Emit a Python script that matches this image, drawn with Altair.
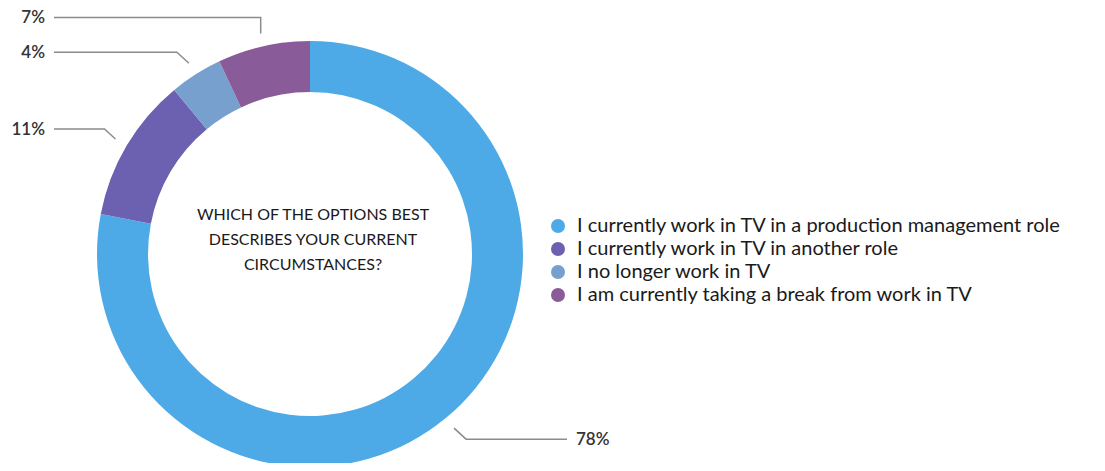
import altair as alt
import numpy as np
import pandas as pd

# ---- data ----
categories = [
    "I currently work in TV in a production management role",
    "I currently work in TV in another role",
    "I no longer work in TV",
    "I am currently taking a break from work in TV",
]
values = [78, 11, 4, 7]
colors = ["#4DAAE6", "#6B61B0", "#77A0CE", "#8A5B99"]
question = ["WHICH OF THE OPTIONS BEST", "DESCRIBES YOUR CURRENT", "CIRCUMSTANCES?"]

# ---- layout ----
W, H = 1089, 455
cx, cy = 302, 246
R_OUT, R_IN = 213, 162
R_LEAD = 226
lift = [11, 10, 11, 16]
kink = [12, 11, 12, 0]
LEFT_LINE_X, LEFT_TEXT_X = 46, 37
RIGHT_LINE_X, RIGHT_TEXT_X = 559, 568
FONT = "Lato"

df = pd.DataFrame({"cat": categories, "value": values, "order": range(len(values))})

# leader lines derived from slice angles
total = sum(values)
cum = np.cumsum([0] + values[:-1])
line_rows, label_rows = [], []
for i, (v, c0) in enumerate(zip(values, cum)):
    a = 2 * np.pi * (c0 + v / 2) / total
    px = cx + R_LEAD * np.sin(a)
    py = cy - R_LEAD * np.cos(a)
    right = np.sin(a) > 0
    up = np.cos(a) > 0
    ex = px + (kink[i] if right else -kink[i])
    ey = py - lift[i] if up else py + lift[i]
    lx = RIGHT_LINE_X if right else LEFT_LINE_X
    for s, (xx, yy) in enumerate([(px, py), (ex, ey), (lx, ey)]):
        line_rows.append({"slice": i, "seq": s, "x": xx, "y": yy})
    label_rows.append({
        "txt": f"{v}%",
        "x": RIGHT_TEXT_X if right else LEFT_TEXT_X,
        "y": ey,
        "side": "right" if right else "left",
    })
lines_df = pd.DataFrame(line_rows)
labels_df = pd.DataFrame(label_rows)

xs = alt.Scale(domain=[0, W], nice=False, zero=False)
ys = alt.Scale(domain=[0, H], nice=False, zero=False, reverse=True)

donut = alt.Chart(df).mark_arc(outerRadius=R_OUT, innerRadius=R_IN, stroke=None).encode(
    theta=alt.Theta("value:Q", stack=True),
    order=alt.Order("order:Q"),
    color=alt.Color(
        "cat:N",
        sort=categories,
        scale=alt.Scale(domain=categories, range=colors),
        legend=alt.Legend(
            title=None,
            orient="none",
            legendX=540,
            legendY=208,
            symbolType="circle",
            symbolSize=196,
            symbolStrokeWidth=0,
            labelFont=FONT,
            labelFontSize=20,
            labelColor="#1a1a1a",
            labelLimit=700,
            labelOffset=9,
            rowPadding=3,
            padding=0,
        ),
    ),
    x=alt.value(cx),
    y=alt.value(cy),
)

leaders = alt.Chart(lines_df).mark_line(color="#8c8c8c", strokeWidth=1.5).encode(
    x=alt.X("x:Q", scale=xs, axis=None),
    y=alt.Y("y:Q", scale=ys, axis=None),
    detail="slice:N",
    order="seq:Q",
)

left_labels = alt.Chart(labels_df).transform_filter(alt.datum.side == "left").mark_text(
    align="right", baseline="middle", font=FONT, fontSize=17, fontWeight=600, color="#333333", dy=1
).encode(x=alt.X("x:Q", scale=xs, axis=None), y=alt.Y("y:Q", scale=ys, axis=None), text="txt:N")

right_labels = alt.Chart(labels_df).transform_filter(alt.datum.side == "right").mark_text(
    align="left", baseline="middle", font=FONT, fontSize=17, fontWeight=600, color="#333333", dy=1
).encode(x=alt.X("x:Q", scale=xs, axis=None), y=alt.Y("y:Q", scale=ys, axis=None), text="txt:N")

center = alt.Chart(pd.DataFrame({"t": ["\n".join(question)]})).mark_text(
    align="center", baseline="middle", font=FONT, fontSize=16, lineBreak="\n",
    lineHeight=25, color="#1a1a1a"
).encode(text="t:N", x=alt.value(cx + 3), y=alt.value(207))

chart = alt.layer(donut, leaders, left_labels, right_labels, center).properties(
    width=W, height=H, padding=0, autosize=alt.AutoSizeParams(type="none")
).configure_view(stroke=None)

chart.save("out.html", embed_options={"renderer": "svg", "actions": False})
